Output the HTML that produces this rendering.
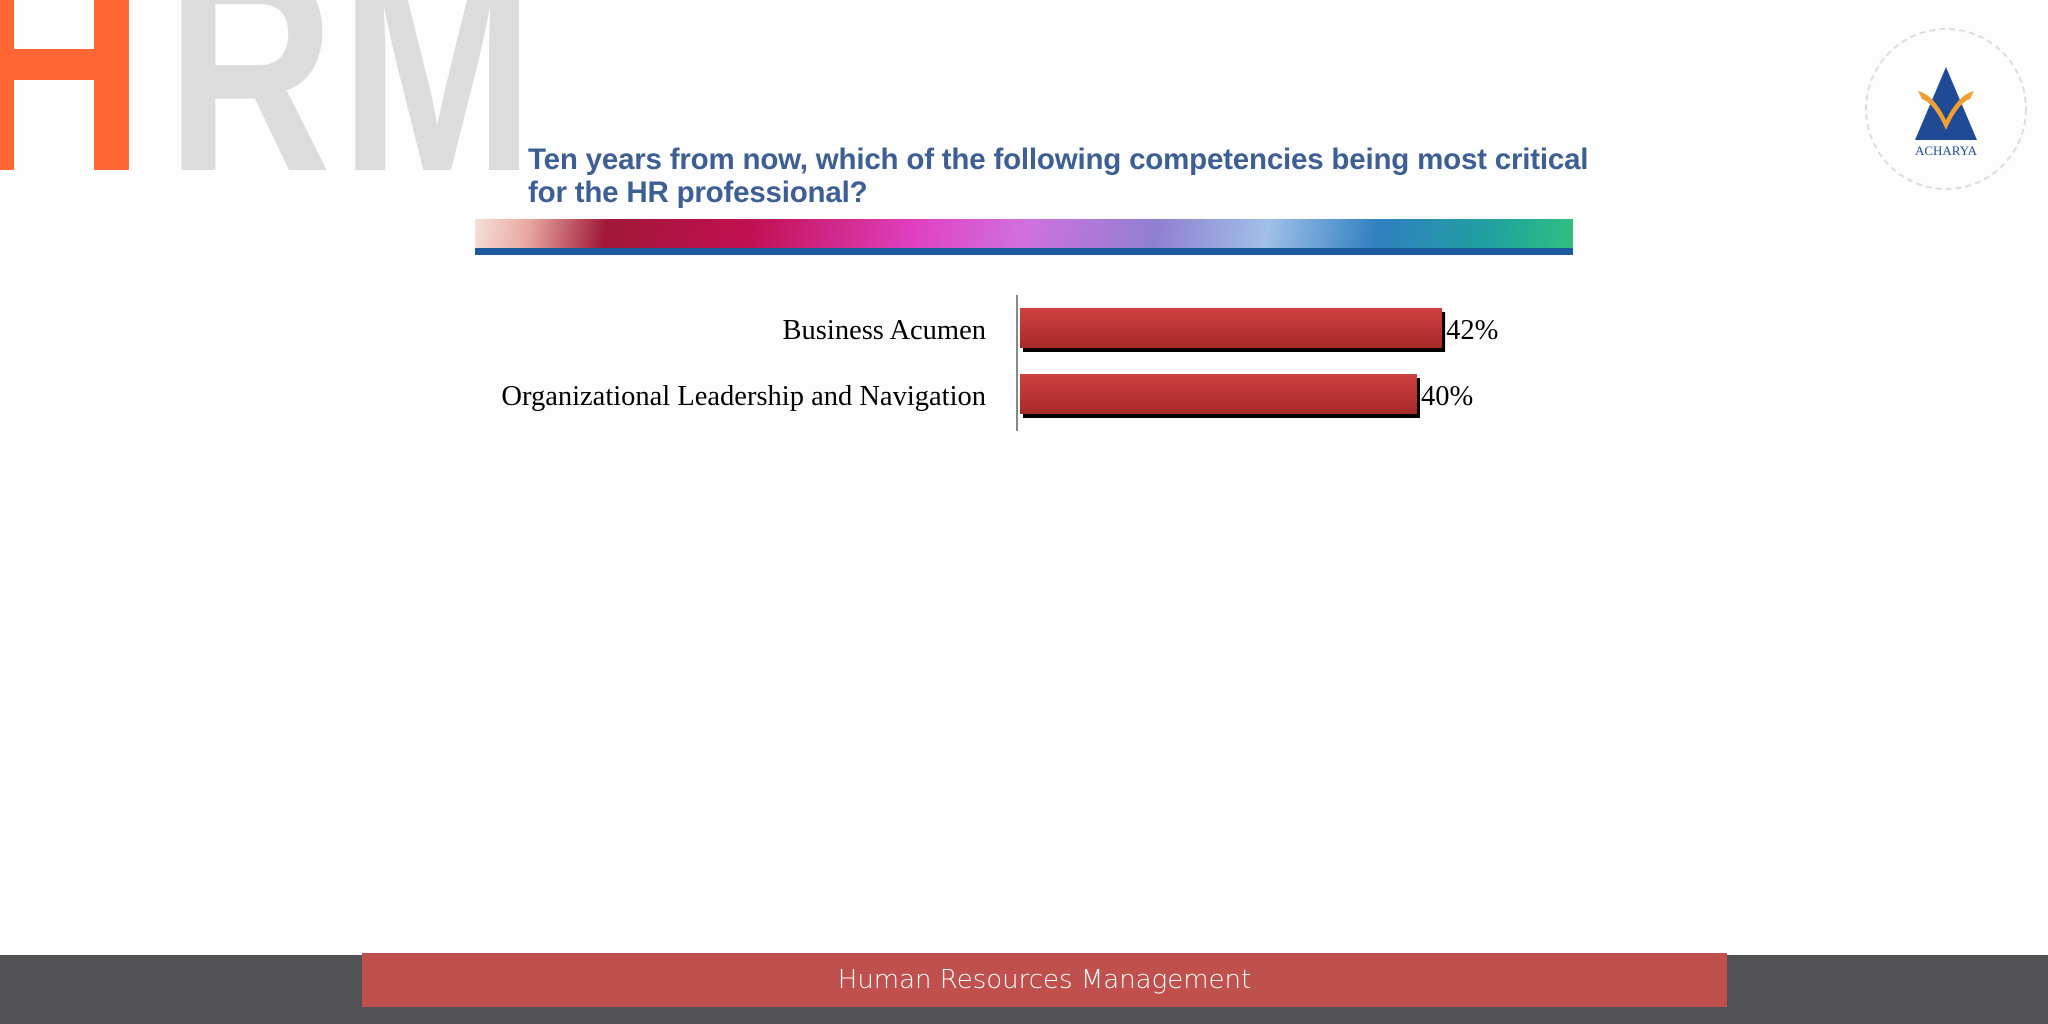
<!DOCTYPE html>
<html><head><meta charset="utf-8">
<style>
body{margin:0;width:2048px;height:1024px;overflow:hidden;background:#fdfdfe;position:relative;font-family:"Liberation Sans",sans-serif}
.abs{position:absolute}
</style></head>
<body>
<div class="abs" style="left:0;top:0;width:540px;height:170px;overflow:hidden">
  <div class="abs" style="left:0;top:0;width:129px;height:170px;background:#ff6633"></div>
  <div class="abs" style="left:14px;top:0;width:80px;height:49px;background:#fdfdfe"></div>
  <div class="abs" style="left:14px;top:80px;width:80px;height:90px;background:#fdfdfe"></div>
  <div class="abs" style="left:166px;top:-100px;font:bold 300px 'Liberation Sans',sans-serif;color:#dcdcdc;letter-spacing:6px;transform:scaleX(0.78);transform-origin:left;white-space:nowrap">RM</div>
</div>
<div class="abs" style="left:528px;top:143px;font-weight:bold;font-size:29.5px;line-height:33px;color:#3d5f94;width:1200px;letter-spacing:-0.2px">Ten years from now, which of the following competencies being most critical<br>for the HR professional?</div>
<div class="abs" style="left:475px;top:219px;width:1098px;height:29px;background:linear-gradient(100deg,#f5e0d8 0%,#e8a8a0 5%,#a01838 12%,#c01050 25%,#e040c0 40%,#d070e0 50%,#9080d0 62%,#a0c0e8 72%,#3080c0 82%,#20a0a0 92%,#30c080 100%)"></div>
<div class="abs" style="left:475px;top:248px;width:1098px;height:7px;background:#1e5aa0"></div>
<svg class="abs" style="left:1862px;top:25px" width="168" height="168">
  <circle cx="84" cy="84" r="80" fill="none" stroke="#ddd" stroke-width="2" stroke-dasharray="6 4"/>
  <polygon points="84,42 115,115 53,115" fill="#1f4a96"/>
  <path d="M56 66 Q72 70 84 95 Q96 70 112 66 L108 74 Q96 78 84 105 Q72 78 60 74 Z" fill="#f0a030"/>
  <text x="84" y="130" text-anchor="middle" font-family="Liberation Serif,serif" font-size="13" fill="#1f4a96">ACHARYA</text>
</svg>
<svg class="abs" style="left:0;top:0" width="2048" height="500" id="chart"></svg>
<div class="abs" style="left:0;top:955px;width:2048px;height:69px;background:#525154"></div>
<div class="abs" style="left:362px;top:953px;width:1365px;height:54px;background:#c0504d;color:#fff;font-size:26px;line-height:54px;text-align:center;font-family:'DejaVu Sans',sans-serif;font-weight:200">Human Resources Management</div>
<script>
const categories=["Business Acumen","Organizational Leadership and Navigation"];
const values=[42,39.5];
const valueLabels=["42%","40%"];
const svg=document.getElementById('chart');
const NS='http://www.w3.org/2000/svg';
const x0=1020, pxPer=10.05;
const xScale=v=>x0+v*pxPer;
const yBand=i=>308+i*66;
const barH=40;
function mk(t,a){const e=document.createElementNS(NS,t);for(const k in a)e.setAttribute(k,a[k]);svg.appendChild(e);return e;}
const defs=mk('defs',{});
defs.innerHTML='<linearGradient id="bg" x1="0" y1="0" x2="0" y2="1"><stop offset="0" stop-color="#d04040"/><stop offset="1" stop-color="#a82a2a"/></linearGradient>';
const ax=mk('line',{x1:1017,y1:295,x2:1017,y2:431,stroke:'#888','stroke-width':2});


categories.forEach((c,i)=>{
  const y=yBand(i);
  const sh=mk('rect',{x:x0+3,y:y+4,width:xScale(values[i])-x0,height:barH,fill:'#000'});
  
  
  const b=mk('rect',{x:x0,y:y,width:xScale(values[i])-x0,height:barH,fill:'url(#bg)'});
  
  
  const l=mk('text',{x:986,y:y+barH/2+11,'text-anchor':'end','font-family':'Liberation Serif,serif','font-size':28.5,fill:'#000'});
  l.textContent=c;
  
  
  const v=mk('text',{x:xScale(values[i])+4,y:y+barH/2+11,'font-family':'Liberation Serif,serif','font-size':28.5,fill:'#000'});
  v.textContent=valueLabels[i];
  
  
});
</script>
</body></html>
